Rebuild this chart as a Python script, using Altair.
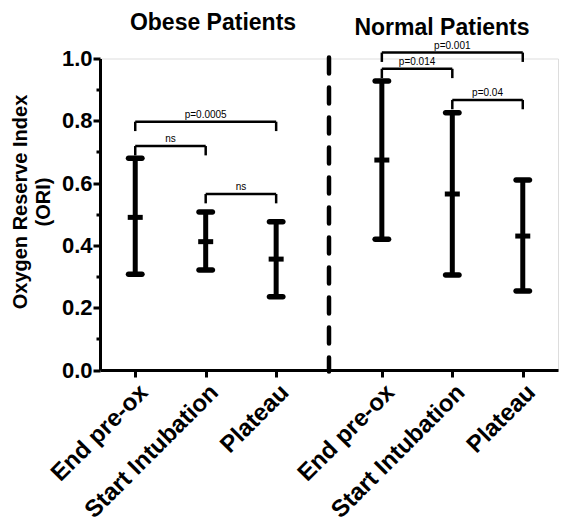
import altair as alt
import pandas as pd

# ---- data ----
groups = ["Obese", "Obese", "Obese", "Normal", "Normal", "Normal"]
phases = ["End pre-ox", "Start Intubation", "Plateau"]
mean_vals = [0.490, 0.412, 0.356, 0.674, 0.565, 0.430]
lower_vals = [0.307, 0.321, 0.235, 0.420, 0.305, 0.254]
upper_vals = [0.680, 0.507, 0.476, 0.928, 0.826, 0.610]

br_from = ["End pre-ox", "End pre-ox", "Start Intubation", "End pre-ox", "End pre-ox", "Start Intubation"]
br_to = ["Plateau", "Start Intubation", "Plateau", "Plateau", "Start Intubation", "Plateau"]
br_group = ["Obese", "Obese", "Obese", "Normal", "Normal", "Normal"]
br_level = [0.797, 0.719, 0.565, 1.019, 0.967, 0.867]
br_label = ["p=0.0005", "ns", "ns", "p=0.001", "p=0.014", "p=0.04"]

panel_titles = ["Obese Patients", "Normal Patients"]
y_title = ["Oxygen Reserve Index", "(ORI)"]

# ---- build tables ----
group_order = ["Obese", "Normal"]
GAP = 3.5  # slot offset of the second group on the x scale


def slot(group, phase):
    return 1 + phases.index(phase) + GAP * group_order.index(group)


df = pd.DataFrame({
    "group": groups,
    "phase": phases * 2,
    "mean": mean_vals,
    "lower": lower_vals,
    "upper": upper_vals,
})
df["pos"] = [slot(g, p) for g, p in zip(df["group"], df["phase"])]

br = pd.DataFrame({
    "x1": [slot(g, a) for g, a in zip(br_group, br_from)],
    "x2": [slot(g, b) for g, b in zip(br_group, br_to)],
    "level": br_level,
    "label": br_label,
})

tick_vals = df["pos"].tolist()
label_expr = "".join(
    f"abs(datum.value - {v}) < 0.01 ? '{p}' : " for v, p in zip(df["pos"], df["phase"])
) + "''"

FONT = "Liberation Sans"

xscale = alt.Scale(domain=[0.5, 7.0], nice=False, zero=False)
yscale = alt.Scale(domain=[0, 1], nice=False)

xaxis = alt.Axis(
    values=tick_vals,
    labelExpr=label_expr,
    labelAngle=-45,
    labelAlign="right",
    labelBaseline="top",
    labelFont=FONT,
    labelFontSize=24,
    labelFontWeight="bold",
    labelColor="black",
    labelPadding=3,
    labelOverlap=False,
    labelBound=False,
    labelFlush=False,
    labelLimit=400,
    tickSize=7,
    tickWidth=3,
    tickColor="black",
    domainWidth=3,
    domainColor="black",
    grid=False,
    title=None,
)

yaxis = alt.Axis(
    values=[round(i * 0.1, 1) for i in range(11)],
    labelExpr="round(datum.value*10) % 2 == 0 ? format(datum.value, '.1f') : ''",
    labelFont=FONT,
    labelFontSize=22,
    labelFontWeight="bold",
    labelColor="black",
    labelPadding=1,
    labelOverlap=False,
    tickSize={"condition": {"test": "round(datum.value*10) % 2 == 1", "value": 4}, "value": 7},
    tickWidth=3,
    tickColor="black",
    domainWidth=3,
    domainColor="black",
    grid=False,
    title=y_title,
    titleFont=FONT,
    titleFontSize=20,
    titleFontWeight="bold",
    titleColor="black",
    titleLineHeight=22.5,
    titlePadding=8,
    titleY=143,
)


def X(field):
    return alt.X(field, type="quantitative", scale=xscale, axis=xaxis)


def Y(field):
    return alt.Y(field, type="quantitative", scale=yscale, axis=yaxis)


base = alt.Chart(df)

bars = base.mark_rule(color="black", strokeWidth=5).encode(
    x=X("pos"), y=Y("lower"), y2="upper"
)

caps = base.transform_fold(["lower", "upper"], as_=["end", "val"]).mark_tick(
    color="black", orient="horizontal", thickness=5.5, size=19, cornerRadius=2.75, opacity=1
).encode(x=X("pos"), y=Y("val"))

means = base.mark_tick(
    color="black", orient="horizontal", thickness=5, size=15, opacity=1
).encode(x=X("pos"), y=Y("mean"))

bbase = alt.Chart(br)

br_top = bbase.mark_rule(color="black", strokeWidth=2.5).encode(
    x=X("x1"), x2="x2", y=Y("level")
)

br_legs = bbase.transform_fold(["x1", "x2"], as_=["side", "xe"]).transform_calculate(
    low="datum.level - 0.03"
).mark_rule(color="black", strokeWidth=2.5).encode(
    x=X("xe"), y=Y("level"), y2="low"
)

br_text = bbase.transform_calculate(mid="(datum.x1 + datum.x2) / 2").mark_text(
    font=FONT, fontSize=10, color="black", baseline="bottom", dy=-2
).encode(x=X("mid"), y=Y("level"), text="label:N")

divider = alt.Chart(pd.DataFrame({"d": [0]})).mark_rule(
    color="black", strokeWidth=4.5, strokeDash=[16, 14], strokeCap="round"
).encode(x=alt.value(229), y=alt.value(-1), y2=alt.value(313))

title_obese = alt.Chart(pd.DataFrame({"t": [panel_titles[0]]})).mark_text(
    font=FONT, fontSize=23, fontWeight="bold", color="black", baseline="middle"
).encode(text="t:N", x=alt.value(113), y=alt.value(-36))

title_normal = alt.Chart(pd.DataFrame({"t": [panel_titles[1]]})).mark_text(
    font=FONT, fontSize=23, fontWeight="bold", color="black", baseline="middle"
).encode(text="t:N", x=alt.value(342), y=alt.value(-31))

chart = alt.layer(
    bars, caps, means, br_top, br_legs, br_text, divider, title_obese, title_normal
).properties(
    width=458,
    height=311.5,
    autosize=alt.AutoSizeParams(type="none"),
    padding={"left": 92, "top": 50.5, "right": 2, "bottom": 154},
).configure_view(stroke=None).configure(background="white")

chart.save("out.html", embed_options={"renderer": "svg", "actions": False})
